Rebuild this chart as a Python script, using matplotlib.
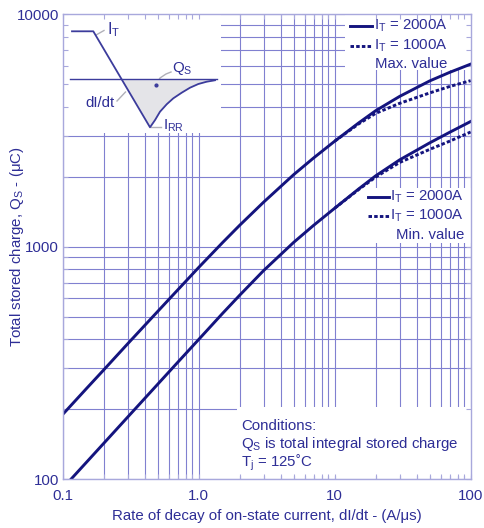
import numpy as np
import matplotlib
matplotlib.use('Agg')
import matplotlib.pyplot as plt
from matplotlib.transforms import Affine2D
from matplotlib.patches import Rectangle
from matplotlib.lines import Line2D
from matplotlib.ticker import NullFormatter

plt.rcParams['font.family'] = ['Liberation Sans', 'DejaVu Sans']
plt.rcParams['mathtext.fontset'] = 'custom'
plt.rcParams['mathtext.rm'] = 'Liberation Sans'
plt.rcParams['mathtext.it'] = 'Liberation Sans:italic'

# ---------------- data ----------------
didt = [0.1, 0.15, 0.2, 0.3, 0.5, 0.7, 1, 1.5, 2, 3, 5, 7, 10, 15, 20, 30, 50, 70, 100]
qs_max_2000 = [190, 246, 295, 382, 527, 651, 814, 1042, 1235, 1553, 2041, 2406, 2840,
               3402, 3839, 4423, 5158, 5612, 6090]
qs_min_2000 = [91.5, 118.6, 142.6, 184.9, 256.4, 318, 399, 517, 618, 789, 1044, 1235, 1463,
               1770, 2015, 2360, 2794, 3101, 3452]
didt_hi = [10, 15, 20, 30, 50, 70, 100]
qs_max_1000 = [2840, 3370, 3740, 4130, 4580, 4880, 5170]
qs_min_1000 = [1463, 1760, 1990, 2300, 2620, 2840, 3110]

x_ticks = [0.1, 1, 10, 100]
x_tick_labels = ['0.1', '1.0', '10', '100']
y_ticks = [100, 1000, 10000]
y_tick_labels = ['100', '1000', '10000']

# schematic waveform in the inset (time units, normalised current)
wave_t = [0, 2.13, 7.8, 8.3, 8.8, 9.47, 10.13, 10.97, 11.8, 12.63, 13.47, 14.3]
wave_i = [1, 1, -1, -0.85, -0.675, -0.52, -0.396, -0.279, -0.175, -0.098, -0.05, -0.02]

# ---------------- style ----------------
W, H = 484, 528
NAVY = '#14147e'
TXT = '#2e2e96'
GRID = '#8080d0'
SPINE = '#a8a8dc'
FS = 10.8
DASH = (0, (1.2, 0.75))

fig = plt.figure(figsize=(W / 100, H / 100), dpi=100)
pixT = Affine2D().scale(1 / 100, -1 / 100).translate(0, H / 100) + fig.dpi_scale_trans

L, R, T, B = 62.7, 470.7, 14.0, 479.3
pos = [L / W, 1 - B / H, (R - L) / W, (B - T) / H]

# background axes carrying only the grid
axg = fig.add_axes(pos, zorder=0)
axg.set_xscale('log'); axg.set_yscale('log')
axg.set_xlim(0.1, 100); axg.set_ylim(100, 10000)
axg.grid(which='both', color=GRID, lw=0.8)
axg.tick_params(which='both', length=0, labelbottom=False, labelleft=False)
for s in axg.spines.values():
    s.set_visible(False)

# main axes
ax = fig.add_axes(pos, zorder=1)
ax.patch.set_visible(False)
ax.set_xscale('log'); ax.set_yscale('log')
ax.set_xlim(0.1, 100); ax.set_ylim(100, 10000)
for s in ax.spines.values():
    s.set_color(SPINE); s.set_linewidth(1.0)
ax.tick_params(which='both', direction='in', top=True, right=True, color=SPINE,
               length=3.5, width=0.8, labelcolor=TXT, labelsize=FS)
ax.tick_params(axis='x', which='both', pad=7)
ax.tick_params(axis='y', which='both', pad=2.5)
ax.set_xticks(x_ticks, x_tick_labels)
ax.set_yticks(y_ticks, y_tick_labels)
ax.xaxis.set_minor_formatter(NullFormatter())
ax.yaxis.set_minor_formatter(NullFormatter())

ax.set_xlabel('Rate of decay of on-state current, dI/dt - (A/\u03bcs)', color=TXT,
              fontsize=FS, labelpad=4)

# white boxes (inset, legends, conditions) hiding the grid
boxes = [(L, T, 221 - L, 133 - T), (345, T, R - 345, 70 - T),
         (365, 188, R - 365, 243 - 188), (237, 407, R - 237, 476 - 407)]
for bx, by, bw, bh in boxes:
    ax.add_patch(Rectangle((bx, by), bw, bh, transform=pixT, facecolor='white',
                           edgecolor='none', zorder=0.5))

# curves
lw = 2.1
ax.plot(didt, qs_max_2000, color=NAVY, lw=lw, solid_joinstyle='round', zorder=2)
ax.plot(didt, qs_min_2000, color=NAVY, lw=lw, solid_joinstyle='round', zorder=2)
ax.plot(didt_hi, qs_max_1000, color=NAVY, lw=lw, ls=DASH, zorder=2)
ax.plot(didt_hi, qs_min_1000, color=NAVY, lw=lw, ls=DASH, zorder=2)


def ptext(x, y, s, **kw):
    kw.setdefault('color', TXT)
    kw.setdefault('fontsize', FS)
    kw.setdefault('va', 'baseline')
    fig.text(x, y, s, transform=pixT, **kw)


def pline(xs, ys, **kw):
    fig.add_artist(Line2D(xs, ys, transform=pixT, **kw))


# y axis label
ptext(17, 246.7, 'Total stored charge, Q$_\\mathregular{S}$ - (\u03bcC)', rotation=90,
      ha='center', va='center')

# legends
lbl2000 = r'I$_\mathregular{T}$ = 2000A'
lbl1000 = r'I$_\mathregular{T}$ = 1000A'
pline([350, 372], [25.5, 25.5], color=NAVY, lw=lw)
pline([350, 372], [45.5, 45.5], color=NAVY, lw=lw, ls=DASH)
ptext(373.5, 30, lbl2000)
ptext(373.5, 50, lbl1000)
ptext(447.5, 67.7, 'Max. value', ha='right')

pline([368, 389], [196.5, 196.5], color=NAVY, lw=lw)
pline([368, 389], [216, 216], color=NAVY, lw=lw, ls=DASH)
ptext(390.5, 200.7, lbl2000)
ptext(390.5, 220, lbl1000)
ptext(464, 239.3, 'Min. value', ha='right')

ptext(241, 430, 'Conditions:')
ptext(241, 448.3, r'Q$_\mathregular{S}$ is total integral stored charge')
ptext(241, 466.5, 'T$_\\mathregular{j}$ = 125\u02daC')

# inset schematic
IX0, IX1, IY0, IY1 = L, 221, T, 133
axi = fig.add_axes([IX0 / W, 1 - IY1 / H, (IX1 - IX0) / W, (IY1 - IY0) / H], zorder=3)
axi.set_axis_off()
axi.set_xlim((IX0 - 72) / 10, (IX1 - 72) / 10)
axi.set_ylim((79.3 - IY1) / 48, (79.3 - IY0) / 48)
wt = np.array(wave_t); wi = np.array(wave_i)
axi.fill_between(wt, wi, 0, where=wi <= 0, interpolate=True, color='#e4e4e8', lw=0)
axi.plot([-0.2, 14.5], [0, 0], color='#3c3c9c', lw=1.0)
axi.plot(wt, wi, color='#3c3c9c', lw=1.3)
axi.plot([8.4], [-0.12], 'o', ms=2, color='#3c3c9c')

GREY = '#b0b0b8'
pline([96, 104], [35, 30.5], color=GREY, lw=1)
pline([157, 160, 166, 171], [83, 78, 74, 72], color=GREY, lw=1)
pline([117, 125.5], [101, 92], color=GREY, lw=1)
pline([151, 161], [127, 127], color=GREY, lw=1)
ptext(107, 34.5, r'I$_\mathregular{T}$', fontsize=11.5)
ptext(172.5, 71.7, r'Q$_\mathregular{S}$')
ptext(85, 106.7, 'dI/dt')
ptext(163, 129.5, r'I$_\mathregular{RR}$')

fig.savefig('out.png', dpi=100)
